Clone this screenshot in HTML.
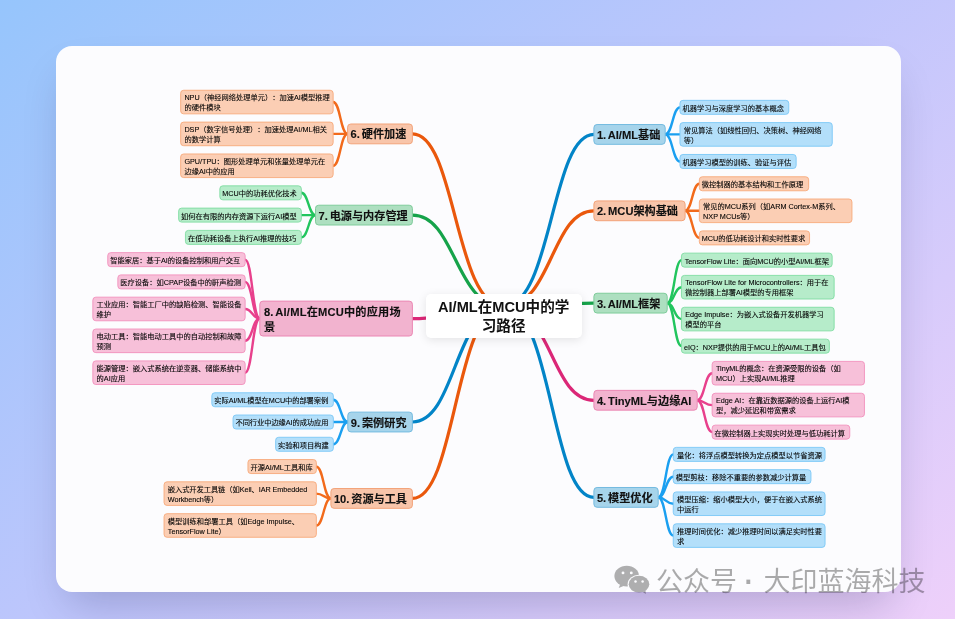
<!DOCTYPE html>
<html lang="zh-CN"><head><meta charset="utf-8"><title>AI/ML在MCU中的学习路径</title>
<style>
html,body{margin:0;padding:0}
body{width:955px;height:619px;overflow:hidden;position:relative;background:linear-gradient(141deg,#96c5fc 0%,#c0c6fc 50%,#eed0fa 100%);font-family:"Liberation Sans","Noto Sans CJK SC",sans-serif;text-spacing-trim:space-all}
.card{position:absolute;left:56px;top:46px;width:845px;height:546px;border-radius:16px;background:#fcfcfe;box-shadow:0 22px 44px -12px rgba(10,10,60,.22)}
svg.ln{position:absolute;left:0;top:0;width:955px;height:619px;overflow:visible}
svg.ln path{fill:none;stroke-linecap:round}
.tx{position:absolute;left:0;top:0;width:955px;height:619px;will-change:transform}
.n1,.lf,.root{position:absolute;box-sizing:border-box;display:flex;align-items:center}
.n1{font-weight:700;font-size:11.15px;word-spacing:-1.2px;line-height:15.4px;color:#111;padding-left:3.5px;white-space:nowrap}
.n1 span{-webkit-text-stroke:0.12px #111}
.lf{font-size:7.25px;line-height:10px;color:#000;padding-left:2.9px;white-space:nowrap;-webkit-text-stroke:0.1px #000}
.lf.l2{padding-left:4.2px}

.root{left:425.9px;top:293.9px;width:155.8px;height:44.2px;background:#fff;border-radius:5px;box-shadow:0 2px 10px rgba(0,0,0,.10);justify-content:center;text-align:center;font-weight:700;font-size:14.6px;line-height:19.3px;color:#111;white-space:nowrap}
.wm{will-change:transform;position:absolute;left:655.8px;top:560.5px;height:36px;word-spacing:1.2px;display:flex;align-items:center;color:rgba(0,0,0,.33);font-size:27px;white-space:nowrap}
.wm i{font-style:normal;font-size:41px;line-height:0;position:relative;top:2.6px;margin-left:-4.1px;margin-right:-0.4px}
</style></head><body>
<div class="card"></div>
<svg class="ln" viewBox="0 0 955 619"><g stroke-width="3.2"><path d="M503.7,306.5 C552.0,306.5 551.0,134.4 593.9,134.4" stroke="#0284c7"/><path d="M503.7,306.5 C552.0,306.5 551.0,210.8 593.9,210.8" stroke="#ea580c"/><path d="M503.7,306.5 C552.0,306.5 551.0,303.1 593.9,303.1" stroke="#16a34a"/><path d="M503.7,306.5 C552.0,306.5 551.0,400.3 593.9,400.3" stroke="#db2777"/><path d="M503.7,306.5 C552.0,306.5 551.0,497.4 593.9,497.4" stroke="#0284c7"/><path d="M503.7,306.5 C454.8,306.5 455.9,133.9 412.4,133.9" stroke="#ea580c"/><path d="M503.7,306.5 C454.8,306.5 455.9,215.1 412.4,215.1" stroke="#16a34a"/><path d="M503.7,306.5 C454.8,306.5 455.9,318.6 412.4,318.6" stroke="#db2777"/><path d="M503.7,306.5 C454.8,306.5 455.9,422.0 412.4,422.0" stroke="#0284c7"/><path d="M503.7,306.5 C454.8,306.5 455.9,498.4 412.4,498.4" stroke="#ea580c"/></g><g stroke-width="2.4"><path d="M665.2,134.4 C672.6,134.4 672.6,107.4 680.0,107.4" stroke="#1a9ff0"/><path d="M665.2,134.4 C672.6,134.4 672.6,134.4 680.0,134.4" stroke="#1a9ff0"/><path d="M665.2,134.4 C672.6,134.4 672.6,161.5 680.0,161.5" stroke="#1a9ff0"/><path d="M685.1,210.8 C692.2,210.8 692.2,183.7 699.4,183.7" stroke="#f26a1b"/><path d="M685.1,210.8 C692.2,210.8 692.2,210.8 699.4,210.8" stroke="#f26a1b"/><path d="M685.1,210.8 C692.2,210.8 692.2,237.9 699.4,237.9" stroke="#f26a1b"/><path d="M667.2,303.1 C674.4,303.1 674.4,260.1 681.5,260.1" stroke="#22c55e"/><path d="M667.2,303.1 C674.4,303.1 674.4,287.2 681.5,287.2" stroke="#22c55e"/><path d="M667.2,303.1 C674.4,303.1 674.4,319.1 681.5,319.1" stroke="#22c55e"/><path d="M667.2,303.1 C674.4,303.1 674.4,346.1 681.5,346.1" stroke="#22c55e"/><path d="M697.2,400.3 C704.7,400.3 704.7,373.2 712.2,373.2" stroke="#e8408c"/><path d="M697.2,400.3 C704.7,400.3 704.7,405.1 712.2,405.1" stroke="#e8408c"/><path d="M697.2,400.3 C704.7,400.3 704.7,432.1 712.2,432.1" stroke="#e8408c"/><path d="M658.2,497.4 C665.8,497.4 665.8,454.4 673.3,454.4" stroke="#1a9ff0"/><path d="M658.2,497.4 C665.8,497.4 665.8,476.7 673.3,476.7" stroke="#1a9ff0"/><path d="M658.2,497.4 C665.8,497.4 665.8,503.7 673.3,503.7" stroke="#1a9ff0"/><path d="M658.2,497.4 C665.8,497.4 665.8,535.6 673.3,535.6" stroke="#1a9ff0"/><path d="M347.6,133.9 C340.4,133.9 340.4,102.0 333.1,102.0" stroke="#f26a1b"/><path d="M347.6,133.9 C340.4,133.9 340.4,133.9 333.1,133.9" stroke="#f26a1b"/><path d="M347.6,133.9 C340.4,133.9 340.4,165.8 333.1,165.8" stroke="#f26a1b"/><path d="M315.5,215.1 C308.4,215.1 308.4,192.8 301.3,192.8" stroke="#22c55e"/><path d="M315.5,215.1 C308.4,215.1 308.4,215.1 301.3,215.1" stroke="#22c55e"/><path d="M315.5,215.1 C308.4,215.1 308.4,237.4 301.3,237.4" stroke="#22c55e"/><path d="M259.8,318.6 C252.4,318.6 252.4,259.6 245.1,259.6" stroke="#e8408c"/><path d="M259.8,318.6 C252.4,318.6 252.4,281.9 245.1,281.9" stroke="#e8408c"/><path d="M259.8,318.6 C252.4,318.6 252.4,309.0 245.1,309.0" stroke="#e8408c"/><path d="M259.8,318.6 C252.4,318.6 252.4,340.8 245.1,340.8" stroke="#e8408c"/><path d="M259.8,318.6 C252.4,318.6 252.4,372.7 245.1,372.7" stroke="#e8408c"/><path d="M347.8,422.0 C340.6,422.0 340.6,399.8 333.3,399.8" stroke="#1a9ff0"/><path d="M347.8,422.0 C340.6,422.0 340.6,422.0 333.3,422.0" stroke="#1a9ff0"/><path d="M347.8,422.0 C340.6,422.0 340.6,444.3 333.3,444.3" stroke="#1a9ff0"/><path d="M330.9,498.4 C323.6,498.4 323.6,466.6 316.3,466.6" stroke="#f26a1b"/><path d="M330.9,498.4 C323.6,498.4 323.6,493.6 316.3,493.6" stroke="#f26a1b"/><path d="M330.9,498.4 C323.6,498.4 323.6,525.5 316.3,525.5" stroke="#f26a1b"/></g><rect x="593.90" y="124.52" width="71.30" height="19.80" rx="3.2" fill="#a6d4eb" stroke="#74bbe0" stroke-width="1"/><rect x="679.95" y="100.35" width="108.80" height="14.00" rx="3" fill="#b3dffa" stroke="#7ac7f6" stroke-width="0.9"/><rect x="679.95" y="122.62" width="152.30" height="23.60" rx="3" fill="#b3dffa" stroke="#7ac7f6" stroke-width="0.9"/><rect x="679.95" y="154.48" width="116.20" height="14.00" rx="3" fill="#b3dffa" stroke="#7ac7f6" stroke-width="0.9"/><rect x="593.90" y="200.91" width="91.20" height="19.80" rx="3.2" fill="#f8c5aa" stroke="#f3a379" stroke-width="1"/><rect x="699.35" y="176.75" width="109.30" height="14.00" rx="3" fill="#fbceb4" stroke="#f7a97b" stroke-width="0.9"/><rect x="699.35" y="199.01" width="152.60" height="23.60" rx="3" fill="#fbceb4" stroke="#f7a97b" stroke-width="0.9"/><rect x="699.35" y="230.88" width="110.20" height="14.00" rx="3" fill="#fbceb4" stroke="#f7a97b" stroke-width="0.9"/><rect x="593.90" y="293.24" width="73.30" height="19.80" rx="3.2" fill="#addfc0" stroke="#7fcc9b" stroke-width="1"/><rect x="681.45" y="253.14" width="150.70" height="14.00" rx="3" fill="#b6ecca" stroke="#7fdda2" stroke-width="0.9"/><rect x="681.45" y="275.40" width="152.70" height="23.60" rx="3" fill="#b6ecca" stroke="#7fdda2" stroke-width="0.9"/><rect x="681.45" y="307.27" width="152.70" height="23.60" rx="3" fill="#b6ecca" stroke="#7fdda2" stroke-width="0.9"/><rect x="681.45" y="339.13" width="147.90" height="14.00" rx="3" fill="#b6ecca" stroke="#7fdda2" stroke-width="0.9"/><rect x="593.90" y="390.37" width="103.30" height="19.80" rx="3.2" fill="#f2b3cf" stroke="#eb88b4" stroke-width="1"/><rect x="712.15" y="361.40" width="152.30" height="23.60" rx="3" fill="#f7c0d9" stroke="#f290bc" stroke-width="0.9"/><rect x="712.15" y="393.26" width="152.30" height="23.60" rx="3" fill="#f7c0d9" stroke="#f290bc" stroke-width="0.9"/><rect x="712.15" y="425.13" width="137.60" height="14.00" rx="3" fill="#f7c0d9" stroke="#f290bc" stroke-width="0.9"/><rect x="593.90" y="487.49" width="64.30" height="19.80" rx="3.2" fill="#a6d4eb" stroke="#74bbe0" stroke-width="1"/><rect x="673.25" y="447.39" width="151.80" height="14.00" rx="3" fill="#b3dffa" stroke="#7ac7f6" stroke-width="0.9"/><rect x="673.25" y="469.66" width="137.70" height="14.00" rx="3" fill="#b3dffa" stroke="#7ac7f6" stroke-width="0.9"/><rect x="673.25" y="491.92" width="151.80" height="23.60" rx="3" fill="#b3dffa" stroke="#7ac7f6" stroke-width="0.9"/><rect x="673.25" y="523.79" width="151.80" height="23.60" rx="3" fill="#b3dffa" stroke="#7ac7f6" stroke-width="0.9"/><rect x="347.60" y="124.01" width="64.80" height="19.80" rx="3.2" fill="#f8c5aa" stroke="#f3a379" stroke-width="1"/><rect x="180.65" y="90.25" width="152.50" height="23.60" rx="3" fill="#fbceb4" stroke="#f7a97b" stroke-width="0.9"/><rect x="180.65" y="122.11" width="152.50" height="23.60" rx="3" fill="#fbceb4" stroke="#f7a97b" stroke-width="0.9"/><rect x="180.65" y="153.98" width="152.50" height="23.60" rx="3" fill="#fbceb4" stroke="#f7a97b" stroke-width="0.9"/><rect x="315.50" y="205.21" width="96.90" height="19.80" rx="3.2" fill="#addfc0" stroke="#7fcc9b" stroke-width="1"/><rect x="219.85" y="185.84" width="81.50" height="14.00" rx="3" fill="#b6ecca" stroke="#7fdda2" stroke-width="0.9"/><rect x="178.65" y="208.11" width="122.70" height="14.00" rx="3" fill="#b6ecca" stroke="#7fdda2" stroke-width="0.9"/><rect x="185.45" y="230.38" width="115.90" height="14.00" rx="3" fill="#b6ecca" stroke="#7fdda2" stroke-width="0.9"/><rect x="259.80" y="301.12" width="152.60" height="34.90" rx="3.2" fill="#f2b3cf" stroke="#eb88b4" stroke-width="1"/><rect x="107.75" y="252.64" width="137.40" height="14.00" rx="3" fill="#f7c0d9" stroke="#f290bc" stroke-width="0.9"/><rect x="117.85" y="274.90" width="127.30" height="14.00" rx="3" fill="#f7c0d9" stroke="#f290bc" stroke-width="0.9"/><rect x="92.85" y="297.17" width="152.30" height="23.60" rx="3" fill="#f7c0d9" stroke="#f290bc" stroke-width="0.9"/><rect x="92.85" y="329.03" width="152.30" height="23.60" rx="3" fill="#f7c0d9" stroke="#f290bc" stroke-width="0.9"/><rect x="92.85" y="360.90" width="152.30" height="23.60" rx="3" fill="#f7c0d9" stroke="#f290bc" stroke-width="0.9"/><rect x="347.80" y="412.13" width="64.60" height="19.80" rx="3.2" fill="#a6d4eb" stroke="#74bbe0" stroke-width="1"/><rect x="211.85" y="392.76" width="121.50" height="14.00" rx="3" fill="#b3dffa" stroke="#7ac7f6" stroke-width="0.9"/><rect x="233.05" y="415.03" width="100.30" height="14.00" rx="3" fill="#b3dffa" stroke="#7ac7f6" stroke-width="0.9"/><rect x="275.65" y="437.29" width="57.70" height="14.00" rx="3" fill="#b3dffa" stroke="#7ac7f6" stroke-width="0.9"/><rect x="330.90" y="488.52" width="81.50" height="19.80" rx="3.2" fill="#f8c5aa" stroke="#f3a379" stroke-width="1"/><rect x="247.95" y="459.56" width="68.40" height="14.00" rx="3" fill="#fbceb4" stroke="#f7a97b" stroke-width="0.9"/><rect x="164.05" y="481.82" width="152.30" height="23.60" rx="3" fill="#fbceb4" stroke="#f7a97b" stroke-width="0.9"/><rect x="164.05" y="513.69" width="152.30" height="23.60" rx="3" fill="#fbceb4" stroke="#f7a97b" stroke-width="0.9"/></svg>
<div class="tx">
<div class="n1" style="left:593.4px;top:127px;width:72.3px;height:16px;line-height:16px"><span>1. AI/ML基础</span></div>
<div class="lf" style="left:679.5px;top:104px;width:109.7px;height:10px"><span>机器学习与深度学习的基本概念</span></div>
<div class="lf l2" style="left:679.5px;top:126px;width:153.2px;height:20px"><span>常见算法（如线性回归、决策树、神经网络<br>等）</span></div>
<div class="lf" style="left:679.5px;top:158px;width:117.1px;height:10px"><span>机器学习模型的训练、验证与评估</span></div>
<div class="n1" style="left:593.4px;top:203px;width:92.2px;height:16px;line-height:16px"><span>2. MCU架构基础</span></div>
<div class="lf" style="left:698.9px;top:180px;width:110.2px;height:10px"><span>微控制器的基本结构和工作原理</span></div>
<div class="lf l2" style="left:698.9px;top:202px;width:153.5px;height:20px"><span>常见的MCU系列（如ARM Cortex-M系列、<br>NXP MCUs等）</span></div>
<div class="lf" style="left:698.9px;top:234px;width:111.1px;height:10px"><span>MCU的低功耗设计和实时性要求</span></div>
<div class="n1" style="left:593.4px;top:296px;width:74.3px;height:16px;line-height:16px"><span>3. AI/ML框架</span></div>
<div class="lf" style="padding-left:3.7px;left:681.0px;top:257px;width:151.6px;height:10px"><span>TensorFlow Lite：面向MCU的小型AI/ML框架</span></div>
<div class="lf l2" style="left:681.0px;top:278px;width:153.6px;height:20px"><span>TensorFlow Lite for Microcontrollers：用于在<br>微控制器上部署AI模型的专用框架</span></div>
<div class="lf l2" style="left:681.0px;top:310px;width:153.6px;height:20px"><span>Edge Impulse：为嵌入式设备开发机器学习<br>模型的平台</span></div>
<div class="lf" style="left:681.0px;top:343px;width:148.8px;height:10px"><span>eIQ：NXP提供的用于MCU上的AI/ML工具包</span></div>
<div class="n1" style="left:593.4px;top:393px;width:104.3px;height:16px;line-height:16px"><span>4. TinyML与边缘AI</span></div>
<div class="lf l2" style="left:711.7px;top:364px;width:153.2px;height:20px"><span>TinyML的概念：在资源受限的设备（如<br>MCU）上实现AI/ML推理</span></div>
<div class="lf l2" style="left:711.7px;top:396px;width:153.2px;height:20px"><span>Edge AI：在靠近数据源的设备上运行AI模<br>型，减少延迟和带宽需求</span></div>
<div class="lf" style="left:711.7px;top:429px;width:138.5px;height:10px"><span>在微控制器上实现实时处理与低功耗计算</span></div>
<div class="n1" style="left:593.4px;top:490px;width:65.3px;height:16px;line-height:16px"><span>5. 模型优化</span></div>
<div class="lf" style="padding-left:4.1px;left:672.8px;top:451px;width:152.7px;height:10px"><span>量化：将浮点模型转换为定点模型以节省资源</span></div>
<div class="lf" style="left:672.8px;top:473px;width:138.6px;height:10px"><span>模型剪枝：移除不重要的参数减少计算量</span></div>
<div class="lf l2" style="left:672.8px;top:495px;width:152.7px;height:20px"><span>模型压缩：缩小模型大小，便于在嵌入式系统<br>中运行</span></div>
<div class="lf l2" style="left:672.8px;top:527px;width:152.7px;height:20px"><span>推理时间优化：减少推理时间以满足实时性要<br>求</span></div>
<div class="n1" style="left:347.1px;top:126px;width:65.8px;height:16px;line-height:16px"><span>6. 硬件加速</span></div>
<div class="lf l2" style="left:180.2px;top:93px;width:153.4px;height:20px"><span>NPU（神经网络处理单元）：加速AI模型推理<br>的硬件模块</span></div>
<div class="lf l2" style="left:180.2px;top:125px;width:153.4px;height:20px"><span>DSP（数字信号处理）：加速处理AI/ML相关<br>的数学计算</span></div>
<div class="lf l2" style="left:180.2px;top:157px;width:153.4px;height:20px"><span>GPU/TPU：图形处理单元和张量处理单元在<br>边缘AI中的应用</span></div>
<div class="n1" style="left:315.0px;top:208px;width:97.9px;height:16px;line-height:16px"><span>7. 电源与内存管理</span></div>
<div class="lf" style="left:219.4px;top:189px;width:82.4px;height:10px"><span>MCU中的功耗优化技术</span></div>
<div class="lf" style="left:178.2px;top:212px;width:123.6px;height:10px"><span>如何在有限的内存资源下运行AI模型</span></div>
<div class="lf" style="left:185.0px;top:234px;width:116.8px;height:10px"><span>在低功耗设备上执行AI推理的技巧</span></div>
<div class="n1" style="left:259.3px;top:305px;width:153.6px;height:30px;line-height:15px;padding-left:4.6px;letter-spacing:.21px"><span>8. AI/ML在MCU中的应用场<br>景</span></div>
<div class="lf" style="left:107.3px;top:256px;width:138.3px;height:10px"><span>智能家居：基于AI的设备控制和用户交互</span></div>
<div class="lf" style="left:117.4px;top:278px;width:128.2px;height:10px"><span>医疗设备：如CPAP设备中的鼾声检测</span></div>
<div class="lf l2" style="left:92.4px;top:300px;width:153.2px;height:20px"><span>工业应用：智能工厂中的缺陷检测、智能设备<br>维护</span></div>
<div class="lf l2" style="left:92.4px;top:332px;width:153.2px;height:20px"><span>电动工具：智能电动工具中的自动控制和故障<br>预测</span></div>
<div class="lf l2" style="left:92.4px;top:364px;width:153.2px;height:20px"><span>能源管理：嵌入式系统在逆变器、储能系统中<br>的AI应用</span></div>
<div class="n1" style="left:347.3px;top:415px;width:65.6px;height:16px;line-height:16px"><span>9. 案例研究</span></div>
<div class="lf" style="letter-spacing:-0.07px;left:211.4px;top:396px;width:122.4px;height:10px"><span>实际AI/ML模型在MCU中的部署案例</span></div>
<div class="lf" style="letter-spacing:-0.07px;left:232.6px;top:418px;width:101.2px;height:10px"><span>不同行业中边缘AI的成功应用</span></div>
<div class="lf" style="left:275.2px;top:441px;width:58.6px;height:10px"><span>实验和项目构建</span></div>
<div class="n1" style="left:330.4px;top:491px;width:82.5px;height:16px;line-height:16px"><span>10. 资源与工具</span></div>
<div class="lf" style="left:247.5px;top:463px;width:69.3px;height:10px"><span>开源AI/ML工具和库</span></div>
<div class="lf l2" style="letter-spacing:-0.06px;left:163.6px;top:485px;width:153.2px;height:20px"><span>嵌入式开发工具链（如Keil、IAR Embedded<br>Workbench等）</span></div>
<div class="lf l2" style="left:163.6px;top:517px;width:153.2px;height:20px"><span>模型训练和部署工具（如Edge Impulse、<br>TensorFlow Lite）</span></div>
</div>
<div class="root"><span style="will-change:transform;transform:translateY(0.9px)">AI/ML在MCU中的学<br>习路径</span></div>
<svg class="ln" viewBox="0 0 955 619"><defs><mask id="mk1" maskUnits="userSpaceOnUse" x="600" y="555" width="60" height="50"><rect x="600" y="555" width="60" height="50" fill="#fff"/><ellipse cx="639" cy="584.2" rx="11.4" ry="9.5" fill="#000"/><circle cx="623" cy="572.9" r="1.45" fill="#000"/><circle cx="631.3" cy="572.9" r="1.45" fill="#000"/></mask><mask id="mk2" maskUnits="userSpaceOnUse" x="600" y="555" width="60" height="50"><rect x="600" y="555" width="60" height="50" fill="#fff"/><circle cx="635.5" cy="581.6" r="1.25" fill="#000"/><circle cx="642.6" cy="581.6" r="1.25" fill="#000"/></mask></defs><g fill="#000" opacity=".31"><g mask="url(#mk1)"><ellipse cx="626.7" cy="576.1" rx="12.3" ry="10.3"/><polygon points="620.2,584.2 618.7,588 624.2,585.8"/></g><g mask="url(#mk2)"><ellipse cx="639" cy="584.2" rx="10.3" ry="8.4"/><polygon points="642.3,591.8 645.9,594 645.4,590.3"/></g></g></svg>
<div class="wm"><span>公众号 <i>·</i> 大印蓝海科技</span></div>
</body></html>
